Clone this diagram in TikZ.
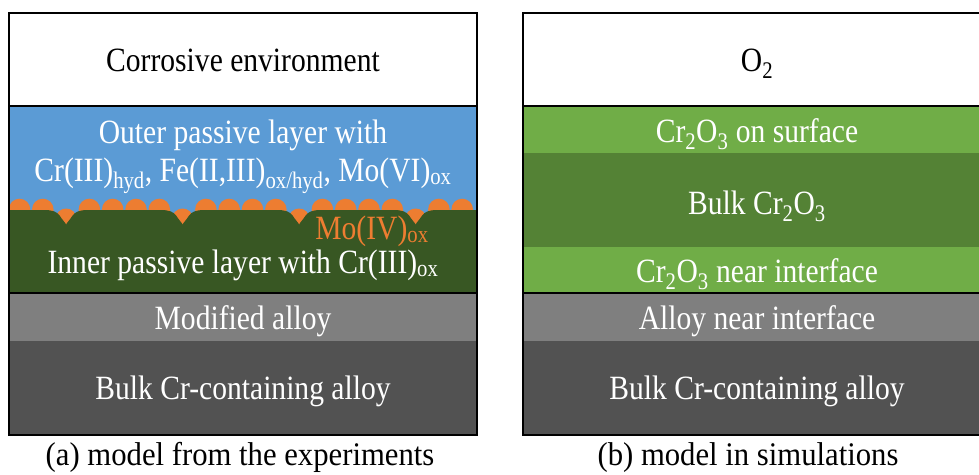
\documentclass[tikz,border=0pt]{standalone}
\usepackage{fontspec}
\setmainfont{Liberation Serif}
\newfontfamily\layerfont{Liberation Serif}[FakeStretch=0.87]
\newfontfamily\capfont{Liberation Serif}[FakeStretch=0.93]
\definecolor{envW}{HTML}{FFFFFF}
\definecolor{outerB}{HTML}{5B9BD5}
\definecolor{innerG}{HTML}{385723}
\definecolor{moO}{HTML}{ED7D31}
\definecolor{crL}{HTML}{70AD47}
\definecolor{crD}{HTML}{548235}
\definecolor{alloyL}{HTML}{7F7F7F}
\definecolor{alloyD}{HTML}{525252}
\begin{document}
\begin{tikzpicture}[x=1pt,y=-1pt,
  lbl/.style={font=\layerfont\fontsize{34}{38}\selectfont, text=white, inner sep=0pt, anchor=base},
  captxt/.style={font=\capfont\fontsize{33}{38}\selectfont, text=black, inner sep=0pt, anchor=base},
  frameline/.style={draw=black, line width=1.5pt}]
\useasboundingbox (0,0) rectangle (979,474);
\clip (0,0) rectangle (979,474);
% ---------- left panel ----------
\fill[envW] (9,13) rectangle (477,106);
\fill[outerB] (9,106) rectangle (477,230);
\foreach \k in {0,...,19} {
  \pgfmathtruncatemacro\m{mod(\k,5)}
  \pgfmathsetmacro\cx{19.5+23.3*\k}
  \ifnum\m=2
    \fill[moO] (\cx,219) circle[radius=10.5];
  \else
    \fill[moO] (\cx,209.5) circle[radius=10.8];
  \fi
}
\fill[innerG] (9,210)
  \foreach \d in {66.1,182.6,299.1,415.6} {
    -- ({\d-22},210) .. controls ({\d-13},210) and ({\d-9},212) .. ({\d-6.5},215.5)
       .. controls ({\d-4},219.5) and ({\d-1},222.5) .. (\d,224.5)
       .. controls ({\d+1},222.5) and ({\d+4},219.5) .. ({\d+6.5},215.5)
       .. controls ({\d+9},212) and ({\d+13},210) .. ({\d+22},210)
  } -- (477,210) -- (477,293) -- (9,293) -- cycle;
\fill[alloyL] (9,293) rectangle (477,341);
\fill[alloyD] (9,341) rectangle (477,435);
\draw[frameline] (9,13) rectangle (477,435);
\draw[frameline] (9,106) -- (477,106);
\draw[frameline] (9,293) -- (477,293);
\node[lbl, text=black] (envA) at (243,71) {Corrosive environment};
\node[lbl] (outA1) at (243,143) {Outer passive layer with};
\node[lbl] (outA2) at (243,181) {Cr(III)\textsubscript{hyd}, Fe(II,III)\textsubscript{ox/hyd}, Mo(VI)\textsubscript{ox}};
\node[lbl, text=moO] (moA) at (372,239) {Mo(IV)\textsubscript{ox}};
\node[lbl] (inA) at (243,273) {Inner passive layer with Cr(III)\textsubscript{ox}};
\node[lbl] (modA) at (243,329) {Modified alloy};
\node[lbl] (bulkA) at (243,399) {Bulk Cr-containing alloy};
\node[captxt] (capA) at (240,465) {(a) model from the experiments};
% ---------- right panel ----------
\fill[envW] (523,13) rectangle (991,106);
\fill[crL] (523,106) rectangle (991,153);
\fill[crD] (523,153) rectangle (991,247);
\fill[crL] (523,247) rectangle (991,293);
\fill[alloyL] (523,293) rectangle (991,341);
\fill[alloyD] (523,341) rectangle (991,435);
\draw[frameline] (523,13) rectangle (991,435);
\draw[frameline] (523,106) -- (991,106);
\draw[frameline] (523,293) -- (991,293);
\node[lbl, text=black] (envB) at (757,71) {O\textsubscript{2}};
\node[lbl] (surfB) at (757,142) {Cr\textsubscript{2}O\textsubscript{3} on surface};
\node[lbl] (bulkOxB) at (757,214) {Bulk Cr\textsubscript{2}O\textsubscript{3}};
\node[lbl] (nearB) at (757,282) {Cr\textsubscript{2}O\textsubscript{3} near interface};
\node[lbl] (alloyB) at (757,329) {Alloy near interface};
\node[lbl] (bulkB) at (757,399) {Bulk Cr-containing alloy};
\node[captxt] (capB) at (748,465) {(b) model in simulations};
\end{tikzpicture}
\end{document}
